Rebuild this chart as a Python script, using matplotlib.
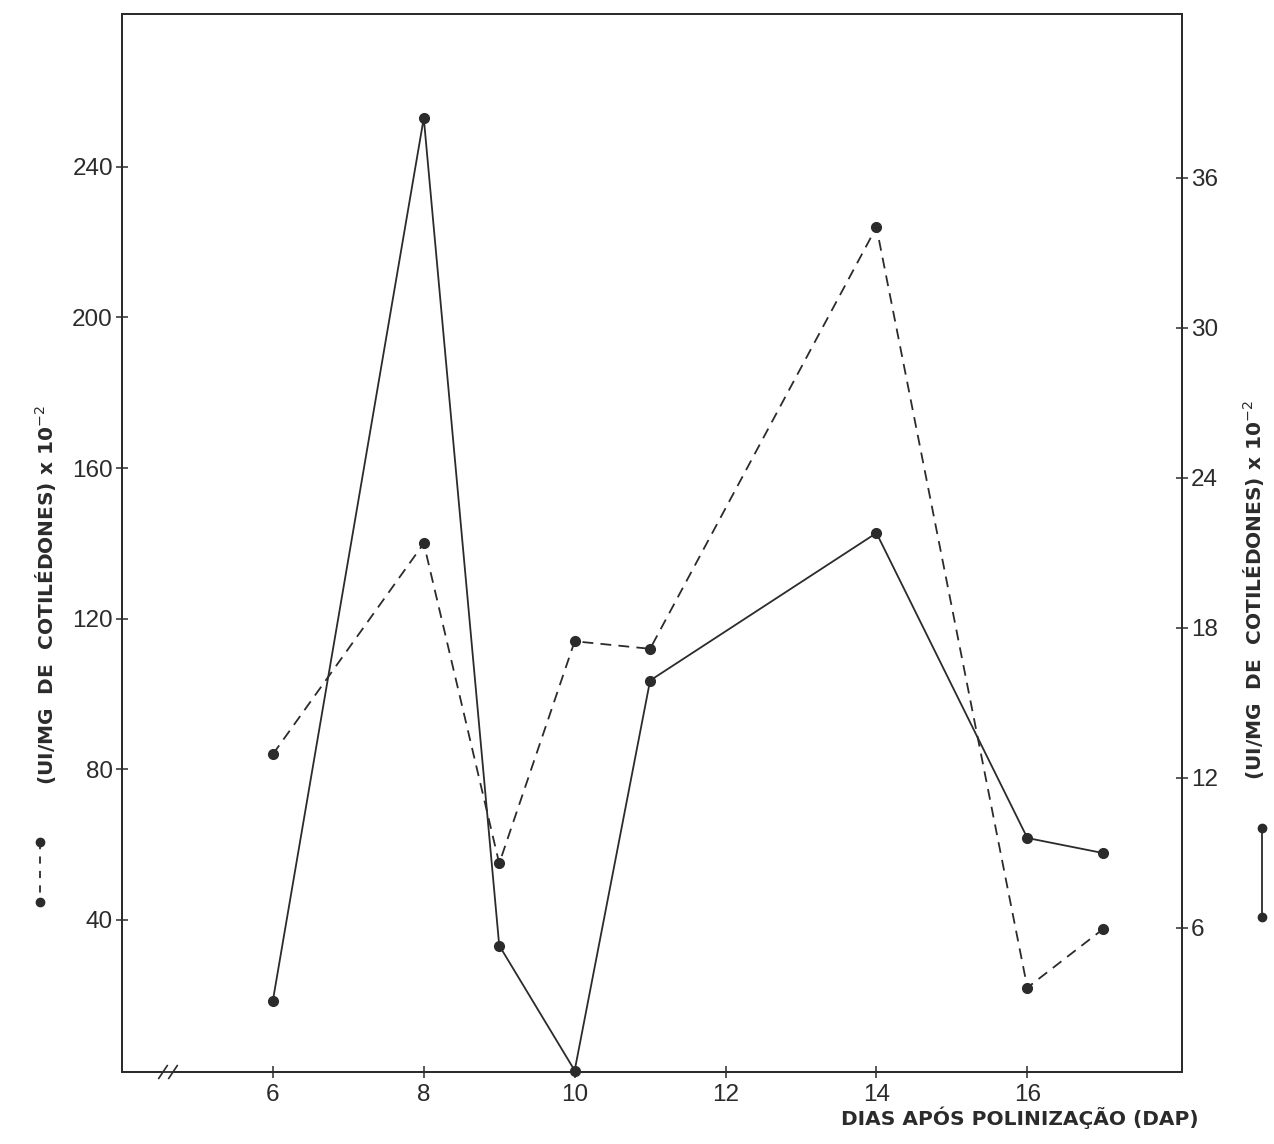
import matplotlib
matplotlib.use("Agg")
import matplotlib.pyplot as plt
from matplotlib.lines import Line2D

# ---- data ----
days = [6, 8, 9, 10, 11, 14, 16, 17]
dashed_left = [84, 140, 55, 114, 112, 224, 22, 37.5]      # left axis (UI/mg) x10^-2
solid_right = [3.1, 38.4, 5.3, 0.3, 15.9, 21.8, 9.6, 9.0]  # right axis (UI/mg) x10^-2
x_ticks = [6, 8, 10, 12, 14, 16]
left_ticks = [40, 80, 120, 160, 200, 240]
right_ticks = [6, 12, 18, 24, 30, 36]

W, H = 1274, 1144
fig = plt.figure(figsize=(W / 100, H / 100), dpi=100)
fig.patch.set_facecolor("white")

L, R, T, B = 122, 1182, 14, 1072
ax = fig.add_axes([L / W, 1 - B / H, (R - L) / W, (B - T) / H])
ax2 = ax.twinx()

ink = "#2b2b2b"
tickfont = dict(family="Liberation Sans", size=17.5)
labelfont = dict(family="DejaVu Sans", weight="bold", size=14.5, color=ink)

ax.plot(days, dashed_left, color=ink, lw=1.3, ls=(0, (6, 4)),
        marker="o", ms=7, mfc=ink, mec=ink, clip_on=False, zorder=3)
ax2.plot(days, solid_right, color=ink, lw=1.3, ls="-",
         marker="o", ms=7, mfc=ink, mec=ink, clip_on=False, zorder=3)

ax.set_xlim(4.0, 18.05)
ax.set_ylim(-0.4, 280.6)
ax2.set_ylim(0.24, 42.56)

ax.set_xticks(x_ticks)
ax.set_xticklabels([str(v) for v in x_ticks], fontdict=tickfont, color=ink)
ax.set_yticks(left_ticks)
ax.set_yticklabels([str(v) for v in left_ticks], fontdict=tickfont, color=ink)
ax2.set_yticks(right_ticks)
ax2.set_yticklabels([str(v) for v in right_ticks], fontdict=tickfont, color=ink)

ax.tick_params(axis="both", direction="inout", length=9, width=1.1, color=ink, pad=2)
ax.tick_params(axis="x", pad=4)
ax2.tick_params(axis="y", direction="inout", length=9, width=1.1, color=ink, pad=2)

for a in (ax, ax2):
    for s in a.spines.values():
        s.set_color(ink)
        s.set_linewidth(1.3)

# axis break on the bottom spine
bx0, bx1 = (163 - L) / (R - L), (173 - L) / (R - L)
ax.plot([bx0 + 0.001, bx1 - 0.001], [0, 0], color="white", lw=3,
        transform=ax.transAxes, clip_on=False, zorder=5)
for bx in (bx0, bx1):
    ax.plot([bx - 0.004, bx + 0.004], [-0.006, 0.006], color=ink, lw=1.2,
            transform=ax.transAxes, clip_on=False, zorder=6)

# axis titles
label = "(UI/MG  DE  COTILÉDONES) x 10$^{-2}$"
fig.text(46 / W, 1 - 595 / H, label, rotation=90, ha="center", va="center", **labelfont)
fig.text(1254 / W, 1 - 590 / H, label, rotation=90, ha="center", va="center", **labelfont)
fig.text(1020 / W, 1 - 1118 / H, "DIAS APÓS POLINIZAÇÃO (DAP)", ha="center", va="center",
         **labelfont)

# legend keys beside titles
fig.add_artist(Line2D([40 / W, 40 / W], [1 - 842 / H, 1 - 902 / H], color=ink, lw=1.3,
                      ls=(0, (4, 4)), marker="o", ms=6, mfc=ink, mec=ink,
                      transform=fig.transFigure))
fig.add_artist(Line2D([1262 / W, 1262 / W], [1 - 828 / H, 1 - 917 / H], color=ink, lw=1.3,
                      ls="-", marker="o", ms=6, mfc=ink, mec=ink,
                      transform=fig.transFigure))

fig.savefig("out.png", dpi=100, facecolor="white")
